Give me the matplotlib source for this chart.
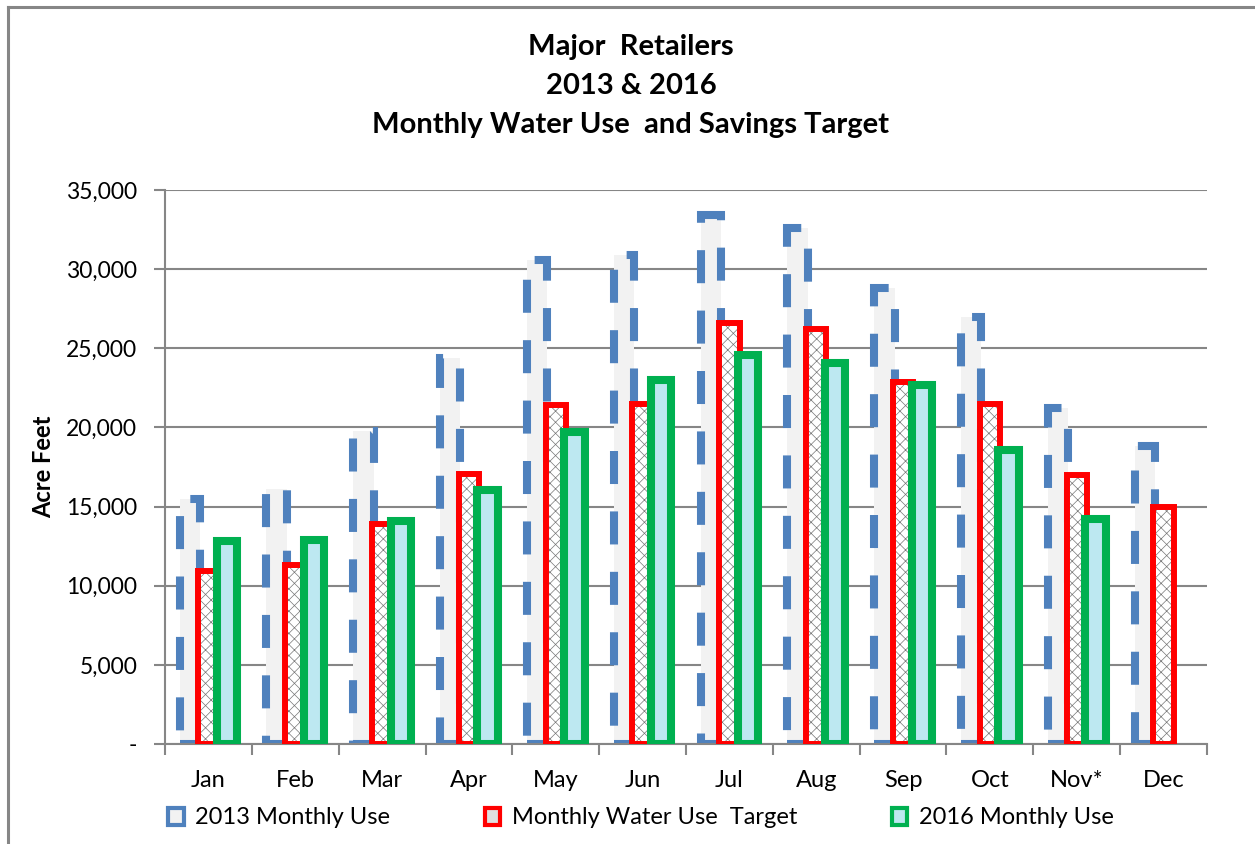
import matplotlib
matplotlib.use("Agg")
import matplotlib.pyplot as plt
from matplotlib.patches import Patch
from matplotlib.lines import Line2D
import numpy as np

plt.rcParams['font.family'] = ['Lato', 'DejaVu Sans']
plt.rcParams['hatch.linewidth'] = 0.5

months = ["Jan", "Feb", "Mar", "Apr", "May", "Jun", "Jul", "Aug", "Sep", "Oct", "Nov*", "Dec"]
use_2013 = [15500, 16100, 19800, 24400, 30600, 30900, 33400, 32600, 28800, 27000, 21200, 18800]
target = [10900, 11300, 13900, 17050, 21400, 21500, 26600, 26200, 22900, 21500, 17000, 15000]
use_2016 = [12800, 12900, 14100, 16050, 19700, 23000, 24600, 24100, 22700, 18600, 14200, np.nan]
yticks = [0, 5000, 10000, 15000, 20000, 25000, 30000, 35000]
ytick_labels = ["-", "5,000", "10,000", "15,000", "20,000", "25,000", "30,000", "35,000"]
series_names = ["2013 Monthly Use", "Monthly Water Use  Target", "2016 Monthly Use"]

W, H = 1255, 844
fig = plt.figure(figsize=(W / 100, H / 100), dpi=100)
ax = fig.add_axes([165 / W, 100 / H, (1207 - 165) / W, (744 - 190) / H])

x = np.arange(len(months))
bw = 0.235
off = 0.215
blue = "#4f81bd"
red = "#ff0000"
green = "#00b050"

ax.bar(x - off, use_2013, bw, facecolor="#f2f2f2", edgecolor=blue, linewidth=5.8,
       linestyle=(0, (4.1, 3.4)), zorder=2)
ax.bar(x, target, bw, facecolor="white", edgecolor="#777777", linewidth=0, hatch="xxx", zorder=3)
ax.bar(x, target, bw, facecolor="none", edgecolor=red, linewidth=4.3, zorder=3.1)
ax.bar(x + off, use_2016, bw, facecolor="#bde8f1", edgecolor=green, linewidth=5.8, zorder=4)

ax.set_xlim(-0.5, len(months) - 0.5)
ax.set_ylim(0, 35000)
ax.set_yticks(yticks)
ax.set_yticklabels(ytick_labels, fontsize=16.5)
ax.set_xticks(x)
ax.set_xticklabels(months, fontsize=17)
ax.set_xticks(np.arange(-0.5, len(months)), minor=True)
ax.tick_params(axis='x', which='major', length=0, pad=19)
ax.tick_params(axis='x', which='minor', length=8, width=1.5, color="#868686")
ax.tick_params(axis='y', length=8, width=1.5, color="#868686", pad=12)
ax.yaxis.grid(True, color="#868686", linewidth=1.5)
ax.set_axisbelow(True)
for s in ["top", "right"]:
    ax.spines[s].set_visible(False)
for s in ["left", "bottom"]:
    ax.spines[s].set_color("#868686")
    ax.spines[s].set_linewidth(1.5)

ax.set_ylabel("Acre Feet", fontsize=17, fontweight="bold", labelpad=8)

titles = ["Major  Retailers", "2013 & 2016", "Monthly Water Use  and Savings Target"]
for i, t in enumerate(titles):
    fig.text(631 / W, 1 - (47 + 39 * i) / H, t, ha="center", va="center",
             fontsize=21, fontweight="bold")

handles = [
    Patch(facecolor="#f2f2f2", edgecolor=blue, linewidth=3),
    Patch(facecolor="#e0e0e0", edgecolor=red, linewidth=3),
    Patch(facecolor="#bde8f1", edgecolor=green, linewidth=3),
]
fig.legend(handles, series_names, loc="center", bbox_to_anchor=(641 / W, 1 - 818 / H),
           ncol=3, frameon=False, fontsize=17, handlelength=0.65, handleheight=0.7,
           handletextpad=0.5, columnspacing=4.0)

# outer border
fig.add_artist(Line2D([8 / W, 8 / W], [0, 1 - 7 / H], color="#868686", linewidth=2.2))
fig.add_artist(Line2D([8 / W, 1], [1 - 7 / H, 1 - 7 / H], color="#868686", linewidth=2.2))

fig.savefig("out.png", dpi=100)
